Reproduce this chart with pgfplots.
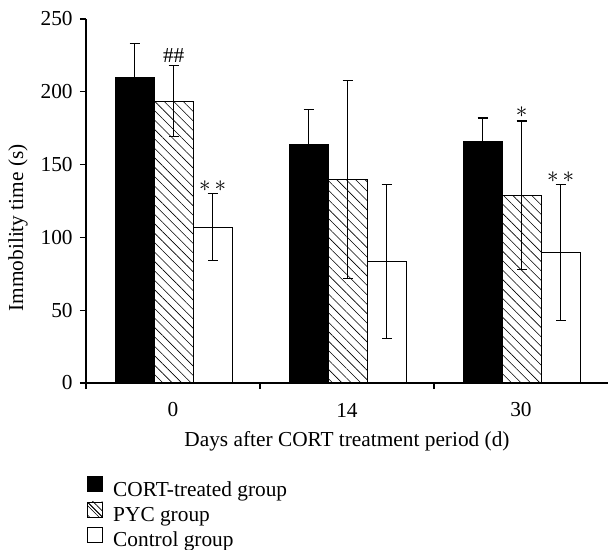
\documentclass[border=0pt]{standalone}
\usepackage{pgfplots}
\pgfplotsset{compat=1.18}
\usetikzlibrary{patterns.meta}
\usepackage{fontspec}
\setmainfont{Liberation Serif}

\pgfplotstableread{
x y e
0.28 210 23
1.28 164 24
2.28 166 16
}\cort
\pgfplotstableread{
x y e
0.504 193.5 24.3
1.504 140 68
2.504 129 51
}\pyc
\pgfplotstableread{
x y e
0.728 107 23
1.728 83.5 53
2.728 89.5 46.7
}\ctrl

\pgfplotsset{myerr/.style={error bars/.cd, y dir=both, y explicit,
  error bar style={line width=0.9pt, black},
  error mark options={rotate=90, line width=0.9pt, mark size=3.75pt, black}}}

\begin{document}
\fontsize{16}{19}\selectfont
\begin{tikzpicture}
\path[use as bounding box] (-64.5pt,-125.25pt) rectangle (391.5pt,287.25pt);
\begin{axis}[
  at={(0,0)}, anchor=origin,
  scale only axis, width=391.5pt, height=273pt,
  xmin=0, xmax=3, ymin=0, ymax=250,
  axis lines=left, axis line style={-, line width=0.9pt},
  tick align=outside,
  major tick length=4.5pt, minor tick length=4.5pt,
  tick style={line width=0.9pt, black},
  xtick={0.5,1.5,2.5}, xticklabels={0,14,30},
  minor xtick={0,1,2},
  every major x tick/.append style={draw=none},
  ytick={0,50,100,150,200,250},
  xticklabel style={anchor=center, yshift=-15.75pt},
  /pgf/number format/assume math mode=true,
  xlabel={Days after CORT treatment period (d)},
  ylabel={Immobility time (s)},
  xlabel style={at={(axis description cs:0.5,-0.159)}, anchor=center},
  ylabel style={at={(axis description cs:-0.130,0.426)}, anchor=center},
  clip=false,
  ybar, bar width=0.224, bar shift=0pt,
  legend style={draw=none, fill=none, inner sep=0pt, outer sep=0pt,
    at={(axis description cs:0.002,-0.2564)}, anchor=north west,
    row sep=0.4pt,
    nodes={inner sep=0pt, text height=11pt, text depth=3.5pt},
    /tikz/every odd column/.append style={column sep=7.8pt}},
  legend cell align=left,
]
\addplot[fill=black, draw=black, line width=0.9pt,
  legend image code/.code={\draw[fill=black, draw=black, line width=0.6pt] (0pt,-0.3pt) rectangle (11.25pt,10.95pt);}, myerr]
  table[x=x, y=y, y error=e] {\cort};
\addlegendentry{CORT-treated group}
\addplot[fill=white, draw=black, line width=0.9pt,
  postaction={pattern={Lines[angle=-45, distance=5pt, line width=0.45pt]}},
  legend image code/.code={\draw[fill=white, draw=black, line width=0.6pt] (0pt,-0.3pt) rectangle (11.25pt,10.95pt); \draw[line width=0.5pt] (0.3pt,10.6pt) -- (10.9pt,0pt);}, myerr]
  table[x=x, y=y, y error=e] {\pyc};
\addlegendentry{PYC group}
\addplot[fill=white, draw=black, line width=0.9pt,
  legend image code/.code={\draw[fill=white, draw=black, line width=0.6pt] (0pt,-0.3pt) rectangle (11.25pt,10.95pt);}, myerr]
  table[x=x, y=y, y error=e] {\ctrl};
\addlegendentry{Control group}
\node at (axis cs:0.504,224.6) {\#\#};
\node at (axis cs:0.728,135.5) {$\ast\,\ast$};
\node at (axis cs:2.504,186) {$\ast$};
\node at (axis cs:2.728,141.7) {$\ast\,\ast$};
\end{axis}
\end{tikzpicture}
\end{document}
